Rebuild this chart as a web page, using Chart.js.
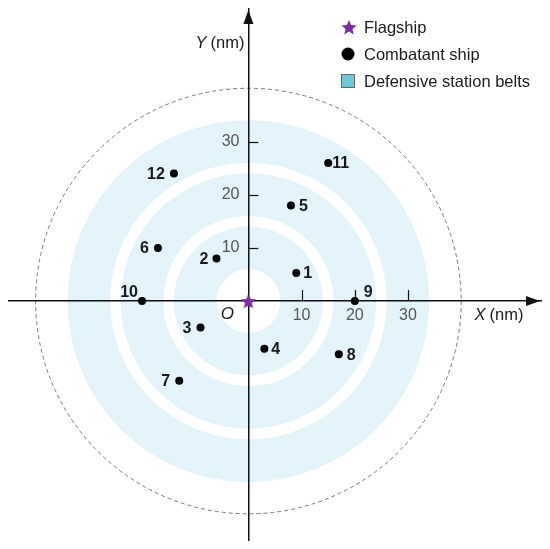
<!DOCTYPE html>
<html><head><meta charset="utf-8">
<script src="https://cdn.jsdelivr.net/npm/chart.js@4"></script>
<style>html,body{margin:0;padding:0;background:#fff}canvas{display:block}</style>
</head><body>
<canvas id="c" width="550" height="549"></canvas>
<script>
// ---- data ----
const shipIds = ['1','2','3','4','5','6','7','8','9','10','11','12'];
const shipX = [9, -6, -9, 3, 8, -17, -13, 17, 20, -20, 15, -14];
const shipY = [5.3, 8, -5, -9, 18, 10, -15, -10, 0, 0, 26, 24];
const flagshipX = [0];
const flagshipY = [0];
const beltInner = [6, 16, 26];
const beltOuter = [14, 24, 34];
const guardRadius = [40];
const xTicks = [10, 20, 30];
const yTicks = [10, 20, 30];
const legendLabels = ['Flagship', 'Combatant ship', 'Defensive station belts'];

const FONT = "'Liberation Sans', Arial, Helvetica, sans-serif";

// label placement per ship: [dx, dy, align]
const labelPlace = {
  '1': [7, 0, 'left'], '2': [-8, 0, 'right'], '3': [-9, 0, 'right'], '4': [7, 0, 'left'],
  '5': [8, 0, 'left'], '6': [-9, 0, 'right'], '7': [-9, 0, 'right'], '8': [8, 0, 'left'],
  '9': [9, -9, 'left'], '10': [-4, -9, 'right'], '11': [4, 0, 'left'], '12': [-9, 0, 'right']
};

function starPath(ctx, cx, cy, R, r) {
  ctx.beginPath();
  for (let i = 0; i < 10; i++) {
    const a = -Math.PI / 2 + i * Math.PI / 5;
    const rr = i % 2 === 0 ? R : r;
    const px = cx + rr * Math.cos(a), py = cy + rr * Math.sin(a);
    if (i === 0) ctx.moveTo(px, py); else ctx.lineTo(px, py);
  }
  ctx.closePath();
}
function makeStar(R, color) {
  const c = document.createElement('canvas');
  c.width = c.height = Math.ceil(2 * R + 2);
  const g = c.getContext('2d');
  starPath(g, c.width / 2, c.width / 2 + R * 0.1, R, R * 0.45);
  g.fillStyle = color; g.fill();
  return c;
}
const starImg = makeStar(8, '#7b2c9e');

const decor = {
  id: 'decor',
  beforeDraw(chart) {
    const {ctx, scales: {x, y}} = chart;
    const cx = x.getPixelForValue(0), cy = y.getPixelForValue(0);
    const rpx = v => x.getPixelForValue(v) - cx;
    ctx.save();
    ctx.fillStyle = '#e2f3f9';
    for (let i = 0; i < beltInner.length; i++) {
      ctx.beginPath();
      ctx.arc(cx, cy, rpx(beltOuter[i]), 0, 2 * Math.PI, false);
      ctx.moveTo(cx + rpx(beltInner[i]), cy);
      ctx.arc(cx, cy, rpx(beltInner[i]), 0, 2 * Math.PI, true);
      ctx.fill();
    }
    ctx.setLineDash([4, 3]);
    ctx.strokeStyle = '#777';
    ctx.lineWidth = 1;
    guardRadius.forEach(g => {
      ctx.beginPath();
      ctx.arc(cx, cy, rpx(g), 0, 2 * Math.PI);
      ctx.stroke();
    });
    ctx.restore();
  },
  afterDatasetsDraw(chart) {
    const {ctx, chartArea: ca, scales: {x, y}} = chart;
    const cx = x.getPixelForValue(0), cy = y.getPixelForValue(0);
    ctx.save();
    // tick marks
    ctx.strokeStyle = '#111'; ctx.lineWidth = 1.2;
    xTicks.forEach(v => {
      const p = Math.round(x.getPixelForValue(v)) + 0.5;
      ctx.beginPath(); ctx.moveTo(p, cy); ctx.lineTo(p, cy - 11); ctx.stroke();
    });
    yTicks.forEach(v => {
      const p = Math.round(y.getPixelForValue(v)) + 0.5;
      ctx.beginPath(); ctx.moveTo(cx, p); ctx.lineTo(cx + 10, p); ctx.stroke();
    });
    // arrows
    ctx.fillStyle = '#111';
    ctx.beginPath();
    ctx.moveTo(cx, ca.top + 1); ctx.lineTo(cx - 5, ca.top + 15); ctx.lineTo(cx + 5, ca.top + 15); ctx.closePath(); ctx.fill();
    ctx.beginPath();
    ctx.moveTo(ca.right - 1, cy); ctx.lineTo(ca.right - 15, cy - 5); ctx.lineTo(ca.right - 15, cy + 5); ctx.closePath(); ctx.fill();
    // axis titles
    ctx.fillStyle = '#1a1a1a';
    ctx.textBaseline = 'middle';
    ctx.font = '16.5px ' + FONT;
    ctx.textAlign = 'right';
    const yt = y.getPixelForValue(48.5);
    ctx.fillText('(nm)', cx - 4, yt);
    const w1 = ctx.measureText('(nm)').width;
    ctx.font = 'italic 16.5px ' + FONT;
    ctx.fillText('Y', cx - 4 - w1 - 4, yt);
    const xt = x.getPixelForValue(42.5);
    ctx.textAlign = 'left';
    ctx.fillText('X', xt, cy + 14);
    const w2 = ctx.measureText('X').width;
    ctx.font = '16.5px ' + FONT;
    ctx.fillText('(nm)', xt + w2 + 4, cy + 14);
    // origin label
    ctx.font = 'italic 17px ' + FONT;
    ctx.textAlign = 'center';
    ctx.fillText('O', cx - 21, cy + 13);
    // ship labels
    ctx.font = 'bold 16px ' + FONT;
    const meta = chart.getDatasetMeta(1);
    meta.data.forEach((pt, i) => {
      const id = shipIds[i];
      const [dx, dy, al] = labelPlace[id];
      ctx.textAlign = al;
      ctx.fillText(id, pt.x + dx, pt.y + dy + 1);
    });
    // legend
    const lx = 348, ly0 = 27, step = 27;
    ctx.font = '16.5px ' + FONT;
    ctx.textAlign = 'left';
    ctx.fillStyle = '#1a1a1a';
    legendLabels.forEach((t, i) => ctx.fillText(t, lx + 16, ly0 + i * step + 1));
    starPath(ctx, lx + 1, ly0 + 1, 8, 3.6);
    ctx.fillStyle = '#7b2c9e'; ctx.fill();
    ctx.beginPath(); ctx.arc(lx, ly0 + step, 6.5, 0, 2 * Math.PI); ctx.fillStyle = '#000'; ctx.fill();
    ctx.fillStyle = '#6ccad9'; ctx.strokeStyle = '#666'; ctx.lineWidth = 1;
    ctx.fillRect(lx - 6.5, ly0 + 2 * step - 6.5, 13, 13);
    ctx.strokeRect(lx - 6.5, ly0 + 2 * step - 6.5, 13, 13);
    ctx.restore();
  }
};

new Chart(document.getElementById('c'), {
  type: 'scatter',
  data: {
    datasets: [
      { label: legendLabels[0], data: flagshipX.map((v, i) => ({x: v, y: flagshipY[i]})),
        pointStyle: starImg, pointRadius: 8 },
      { label: legendLabels[1], data: shipX.map((v, i) => ({x: v, y: shipY[i]})),
        pointStyle: 'circle', pointRadius: 4, backgroundColor: '#000', borderColor: '#000', borderWidth: 0 }
    ]
  },
  options: {
    responsive: false,
    animation: false,
    devicePixelRatio: 1,
    events: [],
    layout: { padding: { left: 9, right: 8, top: 7, bottom: 9 } },
    plugins: { legend: { display: false }, tooltip: { enabled: false } },
    scales: {
      x: {
        type: 'linear', min: -45, max: 55, position: { y: 0 },
        grid: { display: false, drawTicks: false },
        border: { display: true, color: '#111', width: 1.5 },
        afterBuildTicks: s => { s.ticks = xTicks.map(v => ({ value: v })); },
        afterFit: s => { s.paddingLeft = 0; s.paddingRight = 0; s.paddingTop = 0; s.paddingBottom = 0; },
        ticks: { color: '#555', font: { size: 16, family: FONT }, padding: 5, autoSkip: false, maxRotation: 0 }
      },
      y: {
        type: 'linear', min: -45, max: 55, position: { x: 0 },
        grid: { display: false, drawTicks: false },
        border: { display: true, color: '#111', width: 1.5 },
        afterBuildTicks: s => { s.ticks = yTicks.map(v => ({ value: v })); },
        afterFit: s => { s.paddingLeft = 0; s.paddingRight = 0; s.paddingTop = 0; s.paddingBottom = 0; },
        ticks: { color: '#555', font: { size: 16, family: FONT }, padding: 8, autoSkip: false,
                 callback: v => v + '  ' }
      }
    }
  },
  plugins: [decor]
});
</script>
</body></html>
